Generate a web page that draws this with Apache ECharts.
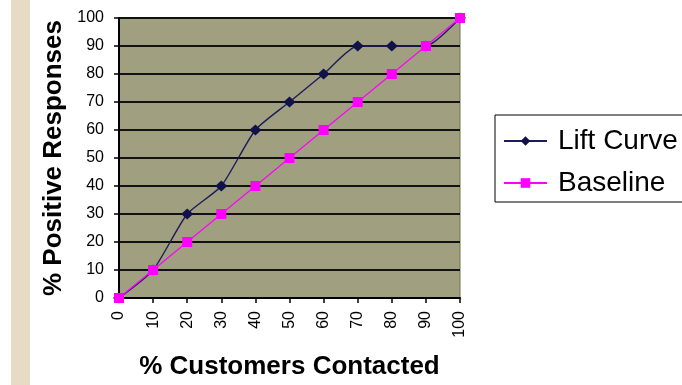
<!DOCTYPE html>
<html>
<head>
<meta charset="utf-8">
<script src="https://cdn.jsdelivr.net/npm/echarts@6/dist/echarts.min.js"></script>
<style>
  html, body { margin: 0; padding: 0; background: #fff; }
  #chart { width: 682px; height: 385px; }
</style>
</head>
<body>
<div id="chart"></div>
<script>
// Percent of customers contacted (x) vs percent of positive responses (y)
const customersContacted = [0, 10, 20, 30, 40, 50, 60, 70, 80, 90, 100];
const liftCurve = [0, 10, 30, 40, 60, 70, 80, 90, 90, 90, 100];
const baseline = [0, 10, 20, 30, 40, 50, 60, 70, 80, 90, 100];

const pairs = (ys) => customersContacted.map((x, i) => [x, ys[i]]);

const chart = echarts.init(document.getElementById('chart'), null, { renderer: 'canvas' });

chart.setOption({
  animation: false,
  backgroundColor: '#ffffff',
  textStyle: { fontFamily: 'Liberation Sans, Arial, sans-serif', color: '#000' },
  graphic: [
    // decorative beige strip on the left edge
    { type: 'rect', left: 11, top: 0, shape: { width: 19, height: 385 }, style: { fill: '#e7dbc3' }, z: -1 }
  ],
  grid: {
    left: 119, top: 18, right: 222, bottom: 86,
    show: true,
    backgroundColor: '#a09f80',
    borderColor: '#6f6e55',
    borderWidth: 1
  },
  legend: {
    orient: 'vertical',
    left: 495, top: 115,
    padding: [12, 6, 5, 8],
    itemGap: 14,
    itemWidth: 43,
    itemHeight: 12,
    borderColor: '#000',
    borderWidth: 1,
    textStyle: { fontSize: 28, lineHeight: 28, color: '#000', padding: [0, 0, 0, 6] },
    data: ['Lift Curve', 'Baseline']
  },
  xAxis: {
    type: 'value',
    min: 0, max: 100, interval: 10,
    name: '% Customers Contacted',
    nameLocation: 'middle',
    nameGap: 56,
    nameTextStyle: { fontSize: 26, fontWeight: 'bold', color: '#000' },
    axisLine: { show: true, lineStyle: { color: '#000', width: 2 } },
    axisTick: { show: true, inside: false, length: 5, lineStyle: { color: '#000', width: 1.5 } },
    axisLabel: { rotate: 90, fontSize: 16, color: '#000', margin: 13 },
    splitLine: { show: false }
  },
  yAxis: {
    type: 'value',
    min: 0, max: 100, interval: 10,
    name: '% Positive Responses',
    nameLocation: 'middle',
    nameRotate: 90,
    nameGap: 52,
    nameTextStyle: { fontSize: 26, fontWeight: 'bold', color: '#000' },
    axisLine: { show: true, lineStyle: { color: '#000', width: 2 } },
    axisTick: { show: true, inside: false, length: 5, lineStyle: { color: '#000', width: 1.5 } },
    axisLabel: { fontSize: 16, color: '#000', margin: 15 },
    splitLine: { show: true, lineStyle: { color: '#111', width: 2 } }
  },
  series: [
    {
      name: 'Lift Curve',
      type: 'line',
      data: pairs(liftCurve),
      smooth: 0.2,
      symbol: 'diamond',
      symbolSize: [12, 11],
      itemStyle: { color: '#12124a' },
      lineStyle: { color: '#1c1c5a', width: 1.4 },
      z: 2
    },
    {
      name: 'Baseline',
      type: 'line',
      data: pairs(baseline),
      symbol: 'rect',
      symbolSize: 10,
      itemStyle: { color: '#ff00ff' },
      lineStyle: { color: '#ff00ff', width: 1.2 },
      z: 3
    }
  ]
});
</script>
</body>
</html>
